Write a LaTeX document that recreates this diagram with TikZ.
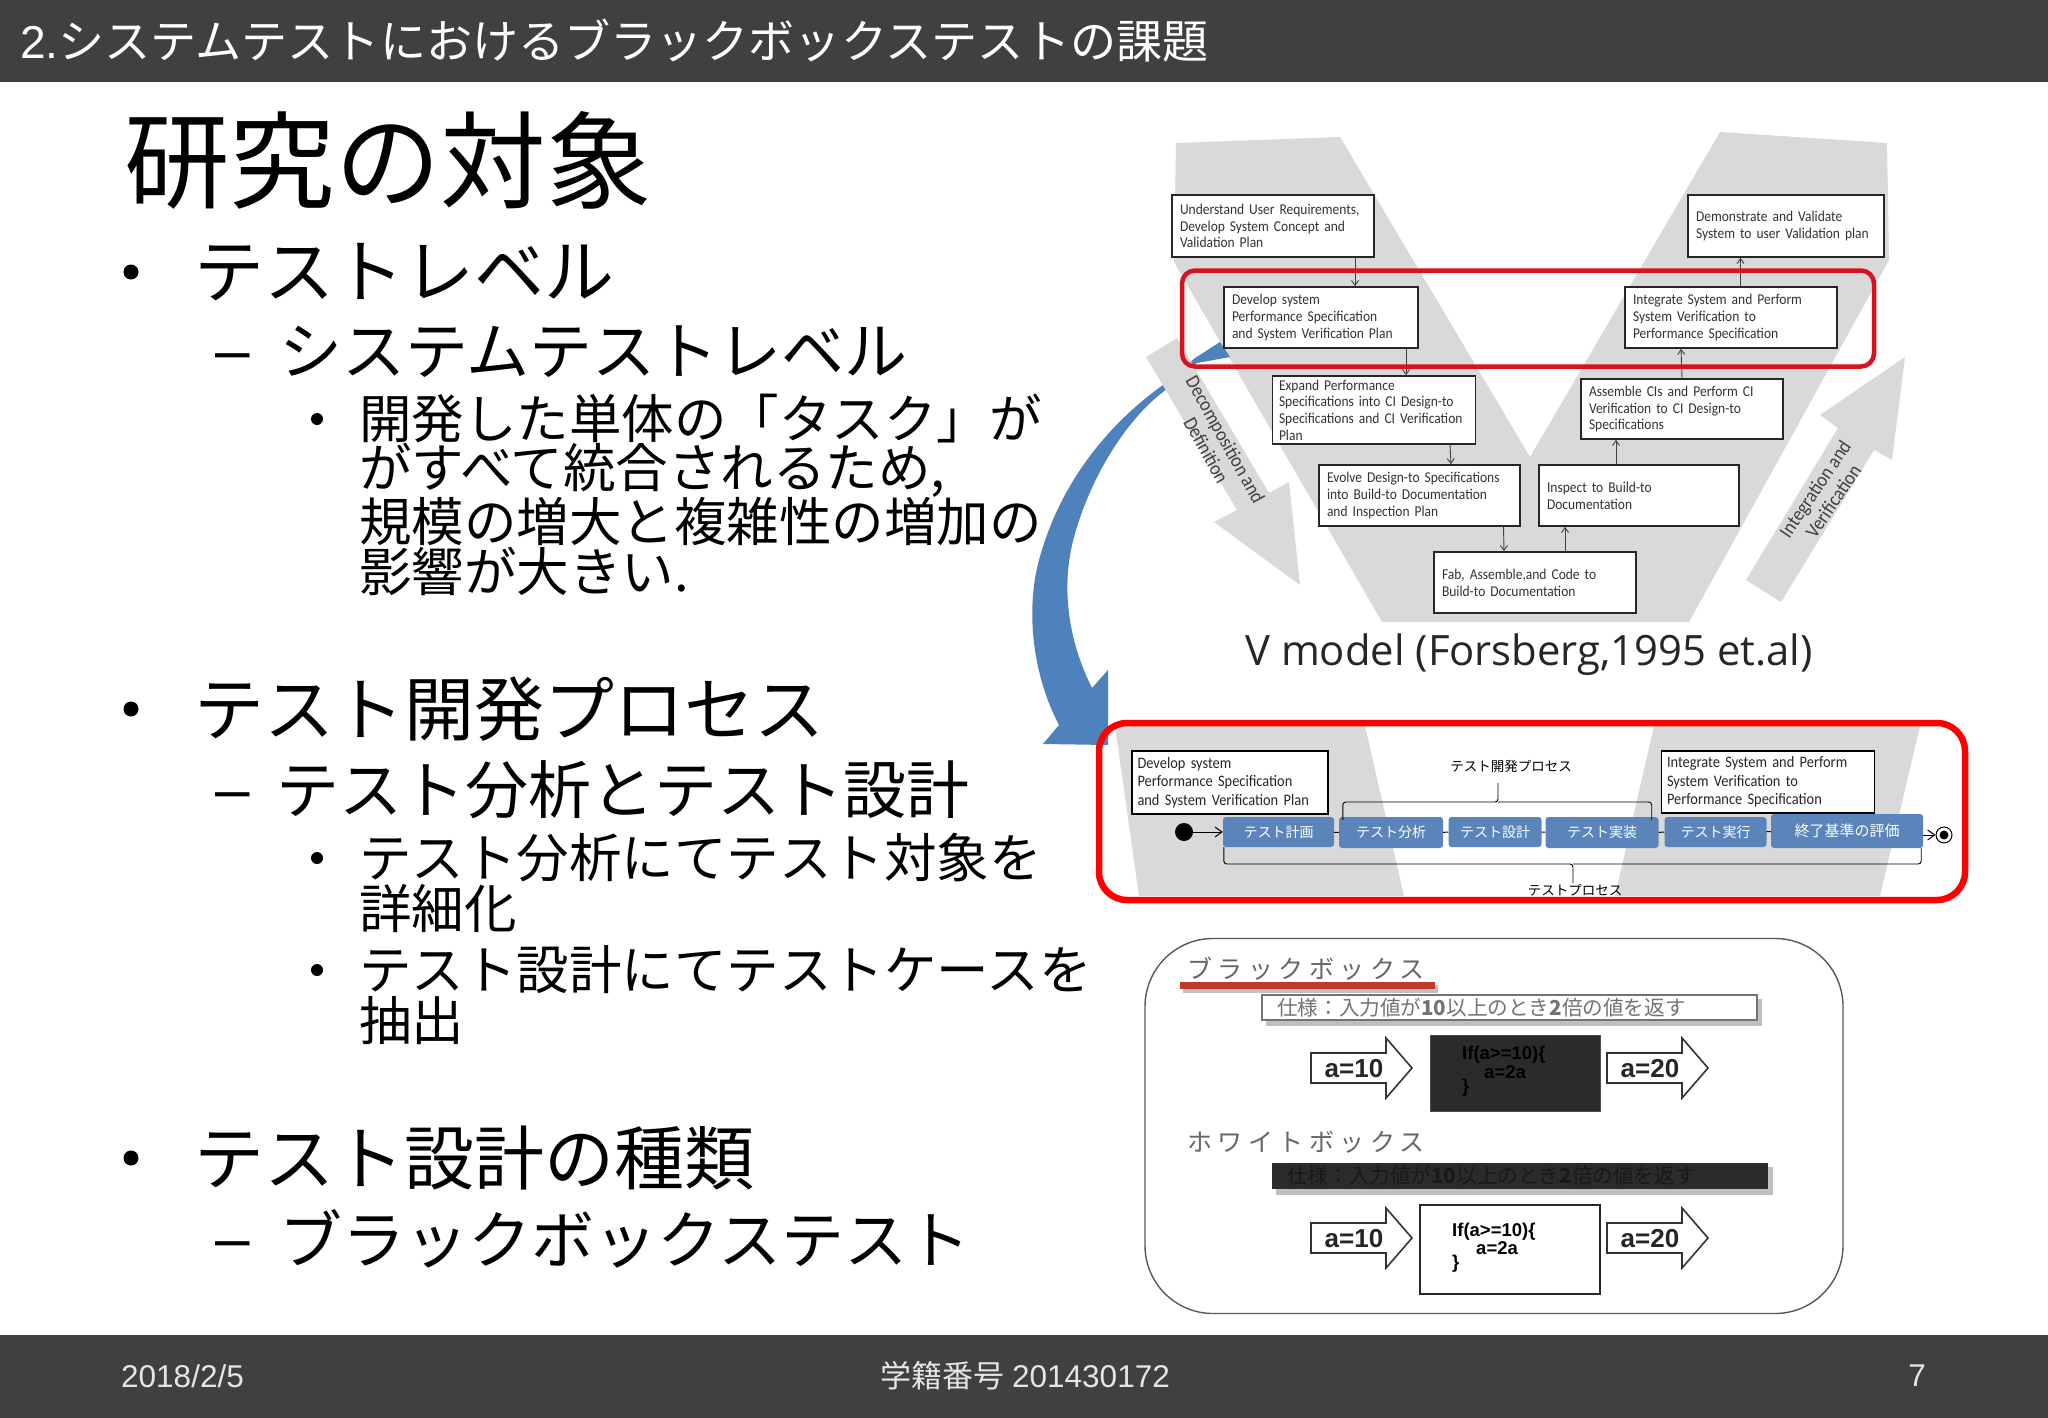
\documentclass[tikz,border=0pt]{standalone}
\usepackage{fontspec}
\usetikzlibrary{calc,arrows.meta}
\setmainfont{Liberation Sans}
\newfontfamily\jp{Noto Sans CJK JP}
\newfontfamily\jpls[LetterSpace=22]{Noto Sans CJK JP}
\newfontfamily\calf[FakeStretch=0.9]{Carlito}
\newfontfamily\capf{Open Sans}
\newcommand{\fs}[1]{\fontsize{#1}{#1}\selectfont}
\definecolor{bar}{HTML}{404040}
\definecolor{vgray}{HTML}{D9D9D9}
\definecolor{arrblue}{HTML}{4F81BD}
\definecolor{boxblue}{HTML}{5B85BA}
\definecolor{redline}{HTML}{D8131F}
\definecolor{redbright}{HTML}{FF0000}
\definecolor{dark}{HTML}{2B2B2B}
\definecolor{underl}{HTML}{C0392B}
\tikzset{
  x=1pt,y=-1pt,
  txt/.style={anchor=west,inner sep=0pt,text=black},
  l1/.style={txt,font=\jp\fs{70}},
  l2/.style={txt,font=\jp\fs{63}},
  l3/.style={txt,font=\jp\fs{52.5}},
  dashmark/.style={txt,font=\fs{62}},
  dot/.style={circle,fill=black,inner sep=0pt},
  vbox/.style={draw=black!85,line width=1.6pt,fill=white,inner sep=0pt,align=left,font=\calf\fontsize{15}{16.7}\selectfont,text=black!80},
  plainbox/.style={draw=black,line width=1.4pt,fill=white,inner sep=0pt,align=left,font=\calf\fontsize{16}{18.3}\selectfont,text=black!85},
  step box/.style={fill=boxblue,rounded corners=3pt,inner sep=0pt,text=white,font=\jp\fs{14}},
  vcon/.style={-{Straight Barb[length=5pt,width=7pt]},draw=black!75,line width=0.9pt},
  flow/.style={draw=black,line width=1pt},
  brace/.style={draw=black,line width=0.9pt,rounded corners=3pt},
  code/.style={anchor=west,inner sep=0pt,font=\bfseries\fs{18.5},text=black},
  io/.style={draw=black!80,line width=1.6pt,fill=white,line join=miter},
  iotext/.style={font=\bfseries\fs{26},text=black!85,inner sep=0pt},
  shadowbox/.style={fill=black!45,opacity=.55},
  vlabel/.style={align=center,font=\calf\fontsize{20}{22}\selectfont,text=black!75,inner sep=0pt},
}
\begin{document}
\begin{tikzpicture}
\useasboundingbox (0,0) rectangle (2048,1418);
\fill[white] (0,0) rectangle (2048,1418);

% bars
\fill[bar] (0,0) rectangle (2048,82);
\fill[bar] (0,1335) rectangle (2048,1418);
\node[anchor=west,inner sep=0pt,text=white] (title) at (20,41) {\fs{46.1}2.{\jp\fs{46.1}システムテストにおけるブラックボックステストの課題}};
\node[anchor=west,inner sep=0pt,text=black!10] (date) at (121,1376) {\fs{31.5}2018/2/5};
\node[inner sep=0pt,text=black!10] (number) at (1025,1376) {{\jp\fs{31}学籍番号}\hspace{8pt}\fs{31.5}201430172};
\node[inner sep=0pt,text=black!10] (page) at (1917,1376) {\fs{31.5}7};

% left text
\node[txt,font=\jp\fs{105.5}] (heading) at (124,160) {研究の対象};
\node[dot,minimum size=15pt] (b1) at (131,272) {};
\node[l1] (t1) at (194,272) {テストレベル};
\node[dashmark] (d1) at (215,363) {–};
\node[l2] (t2) at (279,352) {システムテストレベル};
\node[dot,minimum size=12pt] (b2) at (317,419) {};
\node[l3] (t3) at (359,419) {開発した単体の「タスク」が};
\node[l3] (t4) at (359,470) {がすべて統合されるため,};
\node[l3] (t5) at (359,521) {規模の増大と複雑性の増加の};
\node[l3] (t6) at (359,571) {影響が大きい.};
\node[dot,minimum size=15pt] (b3) at (131,709) {};
\node[l1] (t7) at (194,709) {テスト開発プロセス};
\node[dashmark] (d2) at (215,802) {–};
\node[l2] (t8) at (276,790) {テスト分析とテスト設計};
\node[dot,minimum size=12pt] (b4) at (317,858) {};
\node[l3] (t9) at (359,858) {テスト分析にてテスト対象を};
\node[l3] (t10) at (359,908) {詳細化};
\node[dot,minimum size=12pt] (b5) at (317,970) {};
\node[l3] (t11) at (359,970) {テスト設計にてテストケースを};
\node[l3] (t12) at (359,1021) {抽出};
\node[dot,minimum size=15pt] (b6) at (131,1158) {};
\node[l1] (t13) at (194,1158) {テスト設計の種類};
\node[dashmark] (d3) at (215,1251) {–};
\node[l2] (t14) at (279,1239) {ブラックボックステスト};

% V model background
\fill[vgray] (1176,143) -- (1340,137) -- (1530,457) -- (1720,132) -- (1887,143) -- (1889,260) -- (1689,622) -- (1382,622) -- (1174,262) -- cycle;

% curved blue arrow
\fill[arrblue] (1220,342) -- (1230,357) -- (1197,363) -- (1163,392)
  .. controls (1120,425) and (1085,490) .. (1072,545)
  .. controls (1062,590) and (1068,640) .. (1092,688)
  -- (1108,670) -- (1108,745) -- (1043,744) -- (1059,725)
  .. controls (1030,670) and (1025,600) .. (1042,550)
  .. controls (1060,490) and (1100,430) .. (1163,385) -- (1195,358) -- cycle;

% gray arrows
\fill[vgray] (1146,357) -- (1177,338) -- (1269,493) -- (1289,482) -- (1300,585) -- (1214,522) -- (1237,510) -- cycle;
\fill[vgray] (1746,580) -- (1838,428) -- (1820,415) -- (1905,357) -- (1892,460) -- (1874,450) -- (1781,602) -- cycle;
\node[vlabel,rotate=-61] (decomp) at (1216,445) {Decomposition and\\Definition};
\node[vlabel,rotate=56] (integ) at (1824,495) {Integration and\\Verification};

% V model boxes
\node[vbox,minimum width=202pt,minimum height=62pt,text width=186pt] (understand) at (1273,226) {Understand User Requirements,\\Develop System Concept and\\Validation Plan};
\node[vbox,minimum width=196pt,minimum height=62pt,text width=180pt] (demo) at (1786,226) {Demonstrate and Validate\\System to user Validation plan};
\node[vbox,minimum width=194pt,minimum height=61pt,text width=178pt] (develop) at (1321,317.5) {Develop system\\Performance Specification\\and System Verification Plan};
\node[vbox,minimum width=212pt,minimum height=61pt,text width=196pt] (integrate) at (1731,317.5) {Integrate System and Perform\\System Verification to\\Performance Specification};
\node[vbox,minimum width=203pt,minimum height=68pt,text width=190pt] (expand) at (1374,410) {Expand Performance\\Specifications into CI Design-to\\Specifications and CI Verification\\Plan};
\node[vbox,minimum width=202pt,minimum height=60pt,text width=186pt] (assemble) at (1682,409) {Assemble CIs and Perform CI\\Verification to CI Design-to\\Specifications};
\node[vbox,minimum width=201pt,minimum height=61pt,text width=185pt] (evolve) at (1419.5,495.5) {Evolve Design-to Specifications\\into Build-to Documentation\\and Inspection Plan};
\node[vbox,minimum width=200pt,minimum height=61pt,text width=184pt] (inspect) at (1639,495.5) {Inspect to Build-to\\Documentation};
\node[vbox,minimum width=202pt,minimum height=61pt,text width=186pt] (fab) at (1535,582.5) {Fab, Assemble,and Code to\\Build-to Documentation};

\draw[vcon] ([xshift=82pt]understand.south) -- ([xshift=34pt]develop.north);
\draw[vcon] ([xshift=85pt]develop.south) -- ([xshift=32pt]expand.north);
\draw[vcon] ([xshift=76pt]expand.south) -- ([xshift=31.5pt]evolve.north);
\draw[vcon] ([xshift=84pt]evolve.south) -- ([xshift=-31pt]fab.north);
\draw[vcon] ([xshift=30pt]fab.north) -- ([xshift=-74pt]inspect.south);
\draw[vcon] ([xshift=-23pt]inspect.north) -- ([xshift=-66pt]assemble.south);
\draw[vcon] (assemble.north) -- ([xshift=-50pt]integrate.south);
\draw[vcon] ([xshift=9.5pt]integrate.north) -- ([xshift=-45.5pt]demo.south);

\node[draw=redline,line width=4.5pt,rounded corners=13pt,minimum width=692pt,minimum height=96pt,inner sep=0pt] (redtop) at (1528,318.5) {};
\node[font=\capf\fs{41.8},inner sep=0pt,text=black!85] (caption) at (1529,655) {V model (Forsberg,1995 et.al)};

% process strip
\fill[vgray] (1115,726) -- (1365,726) -- (1404,896) -- (1139,896) -- cycle;
\fill[vgray] (1654,726) -- (1920,726) -- (1880,896) -- (1615,896) -- cycle;
\node[plainbox,minimum width=196pt,minimum height=63pt,text width=185pt] (dev2) at (1230,782.5) {Develop system\\Performance Specification\\and System Verification Plan};
\node[plainbox,minimum width=213pt,minimum height=62pt,text width=202pt] (int2) at (1768,782) {Integrate System and Perform\\System Verification to\\Performance Specification};

\node[step box,minimum width=111pt,minimum height=30pt] (plan) at (1278.5,832) {テスト計画};
\node[step box,minimum width=104pt,minimum height=31pt] (analysis) at (1391,832.5) {テスト分析};
\node[step box,minimum width=93pt,minimum height=30pt] (design) at (1495,832) {テスト設計};
\node[step box,minimum width=113pt,minimum height=31pt] (impl) at (1602,832.5) {テスト実装};
\node[step box,minimum width=102pt,minimum height=30pt] (exec) at (1715.5,832) {テスト実行};
\node[step box,minimum width=152pt,minimum height=34pt,font=\jp\fs{15}] (eval) at (1847,831) {終了基準の評価};
\node[circle,fill=black,inner sep=0pt,minimum size=18pt] (start) at (1184,832) {};
\node[circle,draw=black,line width=1pt,fill=white,inner sep=0pt,minimum size=16pt] (finish) at (1944,835) {};
\node[circle,fill=black,inner sep=0pt,minimum size=9pt] (finishdot) at (finish.center) {};

\draw[flow,-{Straight Barb[length=7pt,width=10pt]}] (start) -- (plan);
\draw[flow] (plan) -- (analysis);
\draw[flow] (analysis) -- (design);
\draw[flow] (design) -- (impl);
\draw[flow] (impl) -- (exec);
\draw[flow] (exec) -- (eval);
\draw[flow,-{Straight Barb[length=7pt,width=10pt]}] (eval.east|-finish) -- (finish);

\node[font=\jp\fs{13.5},inner sep=0pt] (devlabel) at (1511,766) {テスト開発プロセス};
\node[font=\jp\fs{13.5},inner sep=0pt] (testlabel) at (1575,890) {テストプロセス};
\coordinate (ub) at (1498,802);
\coordinate (lb) at (1573,864);
\draw[brace] ([xshift=4pt,yshift=-3pt]analysis.north west) |- (ub) -- ++(0,-19) ++(0,19) -| ([xshift=-7pt,yshift=-3pt]impl.north east);
\draw[brace] ([xshift=1pt]plan.south west) |- (lb) -- ++(0,19) ++(0,-19) -| ([xshift=-2pt]eval.south east);

\node[draw=redbright,line width=6.5pt,rounded corners=28pt,minimum width=866pt,minimum height=177pt,inner sep=0pt] (redbot) at (1532,811.5) {};

% black box / white box panel
\node[draw=black!65,line width=1.4pt,rounded corners=68pt,minimum width=698pt,minimum height=375pt,inner sep=0pt] (panel) at (1494,1126) {};
\node[font=\jpls\fs{25},text=black!60,inner sep=0pt,anchor=west] (bbtitle) at (1187,969) {ブラックボックス};
\fill[shadowbox] (1183,985) rectangle (1438,993);
\fill[underl] (1180,982) rectangle (1435,989);

\fill[shadowbox] (1266,999) rectangle (1762,1026);
\node[draw=black!55,line width=1.2pt,fill=white,minimum width=495pt,minimum height=25pt,inner sep=0pt] (spec1) at (1509.5,1007.5) {};
\node[anchor=west,inner sep=0pt,font=\jp\fs{20.6},text=black!55] (spec1t) at (1277,1007.5) {仕様：入力値が{\bfseries 10}以上のとき{\bfseries 2}倍の値を返す};

\node[fill=dark,draw=black!70,minimum width=170pt,minimum height=76pt,inner sep=0pt] (bb) at (1515,1073) {};
\node[code] (bbc1) at (1462,1055) {If(a>=10)\{};
\node[code] (bbc2) at (1484,1072) {a=2a};
\node[code] (bbc3) at (1462,1088) {\}};

\newcommand{\ioarrow}[4]{% x start, center y, head half height, shaft half
  \draw[io] (#1,#2-#4) -- ++(75,0) -- ++(0,#4-#3) -- ++(26,#3) -- ++(-26,#3) -- ++(0,#4-#3) -- ++(-75,0) -- cycle;}
\ioarrow{1311}{1068}{30}{15}
\ioarrow{1607}{1068}{30}{15}
\node[iotext] (in1) at (1354,1069) {a=10};
\node[iotext] (out1) at (1650,1069) {a=20};

\node[font=\jpls\fs{25},text=black!60,inner sep=0pt,anchor=west] (wbtitle) at (1187,1142) {ホワイトボックス};
\fill[shadowbox] (1276,1167) rectangle (1773,1195);
\node[fill=dark,minimum width=496pt,minimum height=26pt,inner sep=0pt] (spec2) at (1520,1176) {};
\node[anchor=west,inner sep=0pt,font=\jp\fs{20.6},text=black!90] (spec2t) at (1287,1176) {仕様：入力値が{\bfseries 10}以上のとき{\bfseries 2}倍の値を返す};

\node[draw=black!85,line width=1.4pt,fill=white,minimum width=180pt,minimum height=89pt,inner sep=0pt] (wb) at (1510,1249.5) {};
\node[code] (wbc1) at (1452,1232) {If(a>=10)\{};
\node[code] (wbc2) at (1476,1248) {a=2a};
\node[code] (wbc3) at (1452,1264) {\}};
\ioarrow{1311}{1238}{30}{15}
\ioarrow{1607}{1238}{30}{15}
\node[iotext] (in2) at (1354,1239) {a=10};
\node[iotext] (out2) at (1650,1239) {a=20};
\end{tikzpicture}
\end{document}
